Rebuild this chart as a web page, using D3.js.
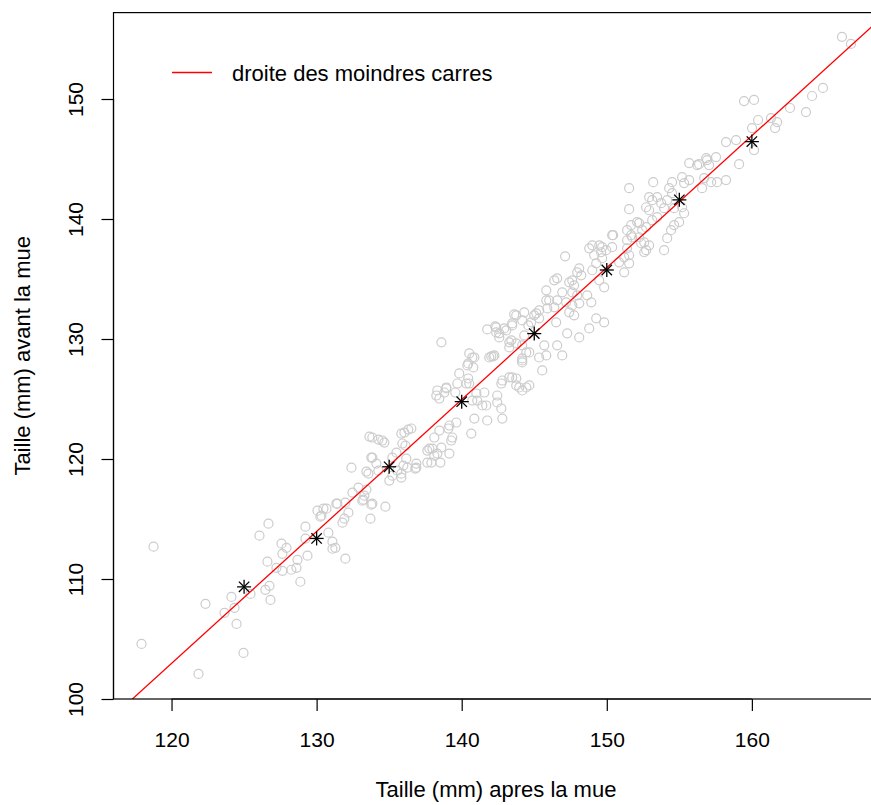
<!DOCTYPE html>
<html>
<head>
<meta charset="utf-8">
<script src="https://cdn.jsdelivr.net/npm/d3@7"></script>
<style>
    body { margin: 0; background: #fff; }
    svg { display: block; font-family: "Liberation Sans", Arial, sans-serif; }
</style>
</head>
<body>
<div id="chart"></div>
<script>
// Taille apres la mue (x) et avant la mue (y)
const postmolt = [
    118.76, 117.93, 121.86, 124.96, 124.48, 122.34, 123.65, 124.34, 124.13, 125.44,
    126.47, 126.75, 126.82, 126.61, 126.06, 126.68, 129.23, 127.58, 127.92, 127.64,
    127.23, 127.64, 128.26, 128.61, 128.68, 128.88, 129.23,
    130.81, 131.09, 131.29, 130.06, 130.47, 130.26, 131.43, 131.98, 132.19, 131.91,
    131.78, 133.71, 133.77, 134.74, 133.22, 133.29, 132.47, 132.88, 133.43, 132.40,
    133.43, 133.57, 133.77, 134.12, 133.64, 134.26, 134.67, 135.84, 136.05, 136.32,
    136.53, 135.91, 135.50, 135.22, 136.18, 135.98, 135.56, 135.84, 135.22, 135.01,
    136.80, 136.87, 137.63, 137.63, 134.26,
    138.60, 140.52, 140.73, 140.45, 140.80, 142.04, 142.18, 142.59, 143.28, 143.76,
    144.45, 144.17, 139.83, 140.45, 140.52, 138.94, 138.32, 138.25, 138.46, 138.80,
    139.56, 141.01, 141.56, 140.73, 141.07, 141.42, 141.69, 142.45, 142.45, 142.73,
    142.80, 141.76, 140.87, 140.66, 142.80, 143.76, 144.17, 143.48, 139.15, 139.08,
    139.63, 139.35, 139.28, 138.46, 138.11, 138.60, 137.77, 138.11, 139.15, 138.53,
    134.53, 133.84, 136.87, 133.84,
    147.13, 148.79, 149.00, 149.48, 150.37, 150.37, 149.61, 149.13, 149.68, 149.27,
    149.00, 149.48, 149.82, 150.85, 151.54, 151.20, 151.54, 152.58, 152.37, 151.68,
    148.10, 147.96, 148.24, 147.62, 147.41, 147.75, 146.58, 146.38, 145.83, 146.93,
    147.62, 147.96, 148.65, 148.93, 148.10, 147.62, 147.20, 146.58, 146.03, 145.83,
    146.38, 145.90, 145.34, 145.14, 144.31, 143.76, 143.48, 142.93, 142.38, 144.17,
    144.79, 145.34, 146.51, 147.75, 147.41, 149.27, 149.82, 148.79, 148.10, 147.27,
    146.58, 146.93, 145.69, 145.83, 145.34, 144.17, 145.55, 143.28, 142.59, 142.25,
    144.17,
    159.12, 160.15, 157.53, 156.85, 157.05, 156.23, 155.68, 158.22, 157.60, 157.19,
    156.71, 156.57, 155.68, 155.19, 155.33, 154.50, 154.30, 154.50, 153.20, 151.54,
    151.54, 152.92, 153.13, 153.47, 153.75, 153.95, 152.92, 153.13, 153.47, 152.71,
    152.44, 152.09, 151.68, 151.40, 151.75, 152.23, 152.58, 152.92, 149.68, 149.96,
    151.40, 151.40, 151.20, 153.95, 154.16, 154.43, 154.64, 154.99, 155.33, 155.19,
    154.64, 154.16, 152.71, 152.71,
    166.21, 166.83, 164.90, 164.15, 163.73, 162.63, 161.60, 161.74, 161.32, 160.43,
    160.15, 159.46, 160.01, 158.91, 158.22, 156.91, 156.36,
    143.62, 145.00, 143.48, 143.07, 143.42, 141.76, 142.31, 142.38, 144.59, 144.31,
    144.66, 144.17, 141.90, 140.87, 140.39, 139.70, 140.32, 138.94, 142.73, 143.28,
    143.76, 143.97, 144.45, 144.66,
    130.68, 130.33, 131.36, 133.15, 133.84, 131.09, 131.98, 129.37, 136.12, 136.25,
    137.91, 137.98, 138.32, 135.84,
    150.44, 152.23
];
const premolt = [
    112.69, 104.59, 102.09, 103.84, 106.26, 107.93, 107.18, 107.60, 108.51, 108.76,
    109.10, 109.43, 108.26, 111.44, 113.61, 114.61, 114.36, 112.94, 112.60, 112.10,
    110.93, 110.68, 110.77, 110.93, 111.60, 109.77, 113.36,
    113.86, 113.11, 112.60, 115.69, 115.86, 115.19, 116.28, 116.36, 115.53, 115.03,
    114.69, 115.03, 116.19, 116.03, 116.61, 116.94, 117.20, 117.61, 117.45, 119.28,
    118.95, 118.78, 120.12, 119.62, 121.87, 121.62, 121.37, 122.12, 122.20, 122.45,
    122.54, 121.29, 120.53, 120.12, 120.03, 119.45, 119.03, 118.78, 118.61, 118.20,
    119.20, 119.62, 120.70, 119.70, 119.03,
    129.72, 128.80, 128.46, 127.96, 127.63, 128.55, 128.55, 130.47, 129.72, 129.63,
    128.88, 128.05, 127.13, 126.71, 126.29, 125.96, 125.71, 125.29, 125.04, 125.54,
    125.54, 125.46, 125.54, 124.87, 124.87, 124.46, 124.46, 125.29, 124.71, 124.21,
    123.37, 123.21, 123.37, 122.12, 126.54, 126.13, 125.71, 126.80, 122.79, 122.54,
    123.04, 121.79, 121.54, 122.37, 121.79, 120.95, 120.87, 120.28, 120.45, 119.70,
    121.54, 121.79, 119.28, 120.12,
    136.89, 137.56, 137.81, 137.81, 137.65, 138.65, 137.23, 136.98, 136.73, 136.31,
    135.73, 134.89, 134.31, 136.39, 136.31, 135.56, 136.98, 137.23, 137.98, 138.65,
    135.89, 135.56, 135.31, 134.89, 134.72, 134.47, 135.06, 134.89, 134.06, 133.89,
    133.89, 133.64, 133.64, 133.06, 132.97, 132.80, 133.06, 133.22, 133.22, 133.22,
    132.64, 132.55, 132.39, 132.14, 132.22, 131.97, 131.30, 130.88, 130.97, 131.55,
    131.39, 131.72, 131.39, 131.97, 132.22, 131.72, 131.39, 130.88, 130.13, 130.47,
    129.47, 128.63, 129.47, 128.63, 128.46, 128.38, 127.38, 129.30, 130.13, 128.63,
    129.47,
    144.57, 145.74, 145.16, 145.07, 144.49, 144.49, 144.66, 143.24, 143.07, 143.07,
    143.41, 142.57, 143.24, 143.49, 142.99, 143.07, 142.57, 142.15, 143.07, 142.57,
    140.82, 141.82, 141.57, 141.82, 141.32, 140.90, 140.73, 139.90, 140.15, 139.32,
    139.07, 139.74, 139.49, 139.07, 138.48, 138.48, 138.06, 137.81, 137.65, 137.40,
    138.23, 137.56, 136.81, 137.40, 138.40, 139.07, 139.49, 139.74, 140.48, 140.98,
    140.90, 141.57, 140.98, 137.40,
    155.18, 154.59, 150.92, 150.25, 148.91, 149.25, 147.58, 148.08, 148.41, 148.25,
    149.92, 149.83, 147.58, 146.58, 146.41, 144.91, 144.57,
    132.05, 131.97, 131.13, 130.72, 129.88, 130.80, 131.05, 130.55, 131.13, 130.30,
    128.88, 128.21, 128.46, 128.46, 127.80, 126.29, 126.29, 125.88, 126.29, 126.80,
    126.71, 125.96, 125.96, 126.13,
    115.86, 115.28, 116.28, 116.53, 116.28, 112.52, 111.69, 111.94, 121.12, 119.28,
    119.70, 120.87, 120.45, 118.45,
    138.65, 139.65
];

// moyennes par classe (etoiles)
const classX = [125, 130, 135, 140, 145, 150, 155, 160];
const classY = [109.35, 113.38, 119.35, 124.78, 130.45, 135.75, 141.6, 146.45];

// droite des moindres carres : y = a + b x
const intercept = -28.95;
const slope = 1.0993;

const xTicks = [120, 130, 140, 150, 160];
const yTicks = [100, 110, 120, 130, 140, 150];

function renderGraph() {
    const width = 871;
    const height = 805;
    // the plot region runs a little past the right edge of the window
    const plot = { left: 113.5, top: 12.6, right: 881, bottom: 699 };
    const font = '"Liberation Sans", Arial, sans-serif';

    const svg = d3.select('#chart')
        .append('svg')
        .attr('width', width)
        .attr('height', height);

    const x = d3.scaleLinear().domain([116, 168.9]).range([plot.left, plot.right]);
    const y = d3.scaleLinear().domain([100, 157.2]).range([plot.bottom, plot.top]);

    svg.append('clipPath')
        .attr('id', 'clip')
        .append('rect')
        .attr('x', plot.left)
        .attr('y', plot.top)
        .attr('width', plot.right - plot.left)
        .attr('height', plot.bottom - plot.top);

    const inner = svg.append('g').attr('clip-path', 'url(#clip)');

    // points
    const pts = postmolt.map((v, i) => ({ x: v, y: premolt[i] }));
    inner.selectAll('circle')
        .data(pts)
        .enter()
        .append('circle')
        .attr('cx', d => x(d.x))
        .attr('cy', d => y(d.y))
        .attr('r', 4.5)
        .attr('fill', 'none')
        .attr('stroke', '#cccccc')
        .attr('stroke-width', 1.2);

    // regression line
    const xs = x.domain();
    inner.append('line')
        .attr('x1', x(xs[0]))
        .attr('y1', y(intercept + slope * xs[0]))
        .attr('x2', x(xs[1]))
        .attr('y2', y(intercept + slope * xs[1]))
        .attr('stroke', '#ff0000')
        .attr('stroke-width', 1.3);

    // class means as asterisks (+ and x)
    const stars = inner.selectAll('g.star')
        .data(classX.map((v, i) => ({ x: v, y: classY[i] })))
        .enter()
        .append('g')
        .attr('class', 'star')
        .attr('transform', d => `translate(${x(d.x)},${y(d.y)})`);
    const arm = 7, diag = 5.2;
    const segs = [[-arm, 0, arm, 0], [0, -arm, 0, arm], [-diag, -diag, diag, diag], [-diag, diag, diag, -diag]];
    segs.forEach(s => {
        stars.append('line')
            .attr('x1', s[0]).attr('y1', s[1])
            .attr('x2', s[2]).attr('y2', s[3])
            .attr('stroke', '#000')
            .attr('stroke-width', 1.3);
    });

    // box
    svg.append('rect')
        .attr('x', plot.left)
        .attr('y', plot.top)
        .attr('width', plot.right - plot.left)
        .attr('height', plot.bottom - plot.top)
        .attr('fill', 'none')
        .attr('stroke', '#000')
        .attr('stroke-width', 1.2);

    // axes
    const xAxis = svg.append('g')
        .attr('transform', `translate(0,${plot.bottom})`)
        .call(d3.axisBottom(x).tickValues(xTicks).tickSize(12).tickSizeOuter(0).tickFormat(d3.format('d')));
    xAxis.select('.domain')
        .attr('d', `M${x(xTicks[0])},0H${x(xTicks[xTicks.length - 1])}`);
    xAxis.selectAll('text')
        .attr('y', 48)
        .attr('dy', null)
        .attr('font-size', 21)
        .attr('font-family', font)
        .attr('fill', '#000');

    const yAxis = svg.append('g')
        .attr('transform', `translate(${plot.left},0)`)
        .call(d3.axisLeft(y).tickValues(yTicks).tickSize(12).tickSizeOuter(0).tickFormat(d3.format('d')));
    yAxis.select('.domain')
        .attr('d', `M0,${y(yTicks[0])}V${y(yTicks[yTicks.length - 1])}`);
    yAxis.selectAll('text')
        .attr('x', null)
        .attr('dy', null)
        .attr('text-anchor', 'middle')
        .attr('transform', 'translate(-30.5,0) rotate(-90)')
        .attr('font-size', 21)
        .attr('font-family', font)
        .attr('fill', '#000');

    svg.selectAll('.tick line').attr('stroke', '#000').attr('stroke-width', 1.2);
    svg.selectAll('.domain').attr('stroke', '#000').attr('stroke-width', 1.2);

    // axis titles
    svg.append('text')
        .attr('x', 496)
        .attr('y', 797)
        .attr('text-anchor', 'middle')
        .attr('font-size', 22)
        .text('Taille (mm) apres la mue');

    svg.append('text')
        .attr('transform', `translate(30,${(plot.top + plot.bottom) / 2}) rotate(-90)`)
        .attr('text-anchor', 'middle')
        .attr('font-size', 22)
        .text('Taille (mm) avant la mue');

    // legend (no box)
    const legend = svg.append('g');
    legend.append('line')
        .attr('x1', 172).attr('x2', 212)
        .attr('y1', 72.5).attr('y2', 72.5)
        .attr('stroke', '#ff0000')
        .attr('stroke-width', 1.3);
    legend.append('text')
        .attr('x', 232)
        .attr('y', 81)
        .attr('font-size', 22)
        .text('droite des moindres carres');
}

renderGraph();
</script>
</body>
</html>
